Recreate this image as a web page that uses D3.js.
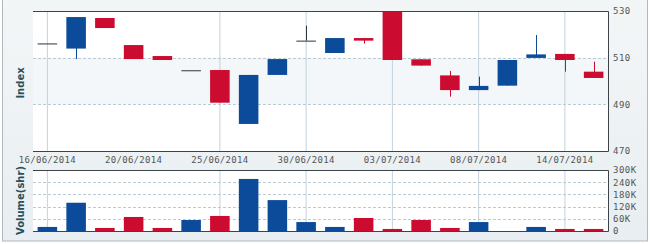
<!DOCTYPE html>
<html>
<head>
<meta charset="utf-8">
<script src="https://cdn.jsdelivr.net/npm/d3@7"></script>
<style>
  html, body { margin: 0; padding: 0; background: #fff; }
  svg { display: block; }
  text { font-family: "DejaVu Sans Mono", monospace; }
</style>
</head>
<body>
<svg id="chart" width="650" height="244"></svg>
<script>
const dates = ['16/06/2014', '17/06/2014', '19/06/2014', '20/06/2014', '23/06/2014', '24/06/2014', '25/06/2014',
  '26/06/2014', '27/06/2014', '30/06/2014', '01/07/2014', '02/07/2014', '03/07/2014', '04/07/2014', '07/07/2014',
  '08/07/2014', '09/07/2014', '10/07/2014', '14/07/2014', '15/07/2014']
const openValues = [516.1, 513.9, 527.0, 515.4, 510.7, 504.6, 504.7, 481.6, 502.6, 517.3, 512.0, 518.4, 530.0, 509.3, 502.4, 496.1, 498.0, 509.9, 511.6, 504.0]
const closeValues = [516.1, 527.4, 522.7, 509.4, 509.0, 504.6, 490.7, 502.6, 509.4, 517.3, 518.4, 517.3, 509.0, 506.6, 496.1, 497.9, 509.0, 511.4, 509.0, 501.3]
const highValues = [516.1, 527.4, 527.0, 515.4, 510.7, 504.6, 504.7, 502.6, 509.4, 523.7, 518.4, 518.4, 530.0, 509.3, 504.3, 501.9, 509.0, 519.7, 511.6, 508.3]
const lowValues = [516.1, 509.4, 522.7, 509.4, 509.0, 504.6, 490.7, 481.6, 502.6, 517.3, 512.0, 516.0, 509.0, 506.6, 493.3, 496.1, 498.0, 509.9, 504.0, 501.3]
const volumeValues = [20000, 139000, 15000, 69000, 15000, 54000, 74000, 256000, 152000, 44000, 20000, 64000, 10000, 54000, 15000, 44000, 0, 20000, 10000, 10000]

const dateLabels = ['16/06/2014', '20/06/2014', '25/06/2014', '30/06/2014', '03/07/2014', '08/07/2014', '14/07/2014']
const gridDates = ['16/06/2014', '25/06/2014', '30/06/2014', '03/07/2014', '08/07/2014', '14/07/2014']
const priceTicks = [470, 490, 510, 530]
const volumeTicks = [0, 60000, 120000, 180000, 240000, 300000]

const blue = '#0b4b9a'
const red = '#cc0b30'
const dojiColor = '#2b3440'

const svg = d3.select('#chart')
const left = 33
const right = 608

const defs = svg.append('defs')
const bg = defs.append('linearGradient').attr('id', 'bg').attr('x1', 0).attr('y1', 0).attr('x2', 0).attr('y2', 1)
bg.append('stop').attr('offset', '0%').attr('stop-color', '#f3f6f7')
bg.append('stop').attr('offset', '100%').attr('stop-color', '#e8eef1')

svg.append('rect')
  .attr('x', 2.5).attr('y', -2).attr('width', 645).attr('height', 243)
  .attr('fill', 'url(#bg)')
  .attr('stroke', '#aeb9c0')

const data = dates.map((d, i) => ({
  date: d,
  open: openValues[i],
  close: closeValues[i],
  high: highValues[i],
  low: lowValues[i],
  volume: volumeValues[i]
}))

const x = d3.scaleBand().domain(dates).range([left, right]).paddingInner(0.32).paddingOuter(0.16)
const xc = d => x(d) + x.bandwidth() / 2

// ---- price panel ----
const pTop = 11
const pBottom = 151
const y = d3.scaleLinear().domain([470, 530]).range([pBottom, pTop])

svg.append('rect')
  .attr('x', left).attr('y', pTop).attr('width', right - left).attr('height', pBottom - pTop)
  .attr('fill', '#fff')
svg.append('rect')
  .attr('x', left).attr('y', y(510)).attr('width', right - left).attr('height', y(490) - y(510))
  .attr('fill', '#f4f7f9')

svg.append('g').selectAll('line').data(gridDates).enter().append('line')
  .attr('x1', d => xc(d)).attr('x2', d => xc(d))
  .attr('y1', pTop).attr('y2', pBottom)
  .attr('stroke', '#c3d2dc').attr('stroke-width', 1)

svg.append('g').selectAll('line').data([490, 510]).enter().append('line')
  .attr('x1', left).attr('x2', right)
  .attr('y1', d => Math.round(y(d)) + 0.5).attr('y2', d => Math.round(y(d)) + 0.5)
  .attr('stroke', '#bccbd3').attr('stroke-dasharray', '3,2')

const candles = svg.append('g').selectAll('g').data(data).enter().append('g')

candles.append('line')
  .attr('x1', d => Math.round(xc(d.date)) + 0.5).attr('x2', d => Math.round(xc(d.date)) + 0.5)
  .attr('y1', d => y(d.high)).attr('y2', d => y(d.low))
  .attr('stroke', d => d.open === d.close ? dojiColor : (d.close > d.open ? blue : red))

candles.append('rect')
  .attr('x', d => x(d.date))
  .attr('width', x.bandwidth())
  .attr('y', d => y(Math.max(d.open, d.close)))
  .attr('height', d => Math.max(1, Math.abs(y(d.open) - y(d.close))))
  .attr('fill', d => d.open === d.close ? dojiColor : (d.close > d.open ? blue : red))

svg.append('path')
  .attr('d', `M${left},${pTop + 0.5}H${right + 0.5}V${pBottom + 0.5}H${left}`)
  .attr('fill', 'none').attr('stroke', '#3d4449')

const yAxis = svg.append('g')
  .attr('transform', `translate(${right + 1},0)`)
  .call(d3.axisRight(y).tickValues(priceTicks).tickSize(0).tickPadding(4))
yAxis.select('.domain').remove()
yAxis.selectAll('text').attr('font-size', 9).attr('fill', '#555').attr('letter-spacing', 0.5)

svg.append('text')
  .attr('transform', `translate(24,${(pTop + pBottom) / 2 + 2}) rotate(-90)`)
  .attr('text-anchor', 'middle')
  .attr('font-size', 10).attr('font-weight', 'bold').attr('fill', '#25505f')
  .style('font-family', 'Verdana, "DejaVu Sans", sans-serif')
  .text('Index')

const xAxis = svg.append('g')
  .attr('transform', `translate(0,${pBottom})`)
  .call(d3.axisBottom(x).tickValues(dateLabels).tickSize(0).tickPadding(6))
xAxis.select('.domain').remove()
xAxis.selectAll('text').attr('font-size', 9).attr('fill', '#555').attr('letter-spacing', 0.3)

// ---- volume panel ----
const vTop = 170
const vBottom = 231
const yv = d3.scaleLinear().domain([0, 300000]).range([vBottom, vTop])

svg.append('rect')
  .attr('x', left).attr('y', vTop).attr('width', right - left).attr('height', vBottom - vTop)
  .attr('fill', '#fff')

svg.append('g').selectAll('line').data(gridDates).enter().append('line')
  .attr('x1', d => xc(d)).attr('x2', d => xc(d))
  .attr('y1', vTop).attr('y2', vBottom)
  .attr('stroke', '#c3d2dc')

svg.append('g').selectAll('line').data(volumeTicks.slice(1, -1)).enter().append('line')
  .attr('x1', left).attr('x2', right)
  .attr('y1', d => Math.round(yv(d)) + 0.5).attr('y2', d => Math.round(yv(d)) + 0.5)
  .attr('stroke', '#bccbd3').attr('stroke-dasharray', '3,2')

svg.append('g').selectAll('rect').data(data.filter(d => d.volume > 0)).enter().append('rect')
  .attr('x', d => x(d.date))
  .attr('width', x.bandwidth())
  .attr('y', d => yv(d.volume))
  .attr('height', d => vBottom - yv(d.volume))
  .attr('fill', d => d.close >= d.open ? blue : red)

svg.append('path')
  .attr('d', `M${left},${vTop + 0.5}H${right + 0.5}V${vBottom + 0.5}H${left}`)
  .attr('fill', 'none').attr('stroke', '#3d4449')

const yvAxis = svg.append('g')
  .attr('transform', `translate(${right + 1},0)`)
  .call(d3.axisRight(yv).tickValues(volumeTicks).tickSize(0).tickPadding(4)
    .tickFormat(d => d === 0 ? '0' : (d / 1000) + 'K'))
yvAxis.select('.domain').remove()
yvAxis.selectAll('text').attr('font-size', 9).attr('fill', '#555').attr('letter-spacing', 0.5)

svg.append('text')
  .attr('transform', `translate(24,${(vTop + vBottom) / 2}) rotate(-90)`)
  .attr('text-anchor', 'middle')
  .attr('font-size', 10).attr('font-weight', 'bold').attr('fill', '#25505f')
  .style('font-family', 'Verdana, "DejaVu Sans", sans-serif')
  .text('Volume(shr)')
</script>
</body>
</html>
